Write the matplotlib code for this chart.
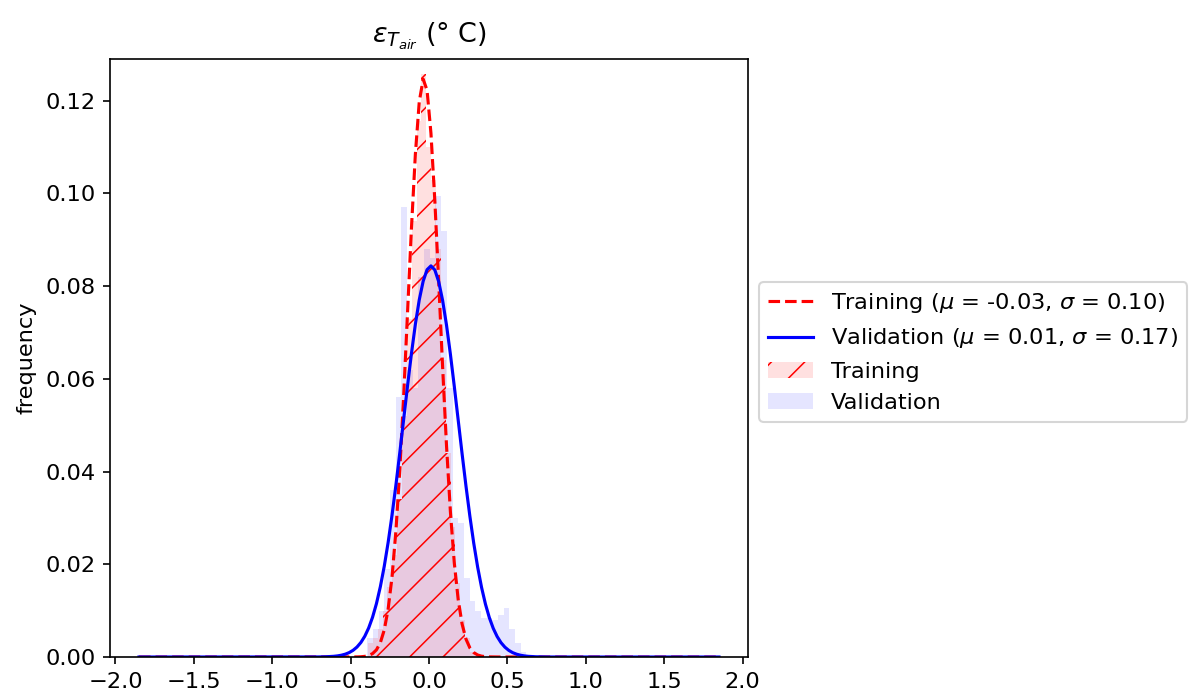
import numpy as np
import matplotlib
matplotlib.use("Agg")
import matplotlib.pyplot as plt

# --- histogram data (fraction of samples per bin) ---
train_bin_start = -0.389
train_bin_width = 0.031
train_freq = [0.003, 0.004, 0.006, 0.010, 0.015, 0.022, 0.034, 0.052, 0.073, 0.094,
              0.1157, 0.1258, 0.110, 0.103, 0.088, 0.064, 0.044, 0.028, 0.016, 0.008,
              0.004, 0.001]

val_bin_start = -0.393
val_bin_width = 0.0362
val_freq = [0.004, 0.006, 0.010, 0.019, 0.036, 0.056, 0.097, 0.062, 0.058, 0.082,
            0.088, 0.086, 0.0995, 0.092, 0.058, 0.030, 0.029, 0.017, 0.012, 0.010,
            0.0085, 0.0085, 0.008, 0.009, 0.0105, 0.006, 0.003, 0.001]

# --- fitted normal curves ---
train_mu, train_sigma = -0.033, 0.102
val_mu, val_sigma = 0.012, 0.174
curve_range = (-1.85, 1.85)

# sizes scaled up 1.5x (figure drawn at 100 dpi)
s = 1.5
plt.rcParams.update({
    'font.size': 16.2,
    'lines.linewidth': 1.5 * s,
    'axes.linewidth': 0.8 * s,
    'patch.linewidth': 1.0 * s,
    'hatch.linewidth': 1.1,
    'xtick.major.size': 3.5 * s,
    'ytick.major.size': 3.5 * s,
    'xtick.major.width': 0.8 * s,
    'ytick.major.width': 0.8 * s,
    'xtick.major.pad': 3.5 * s,
    'ytick.major.pad': 3.5 * s,
    'axes.titlepad': 8 * s,
    'axes.labelpad': 4 * s,
    'axes.titlesize': 'large',
})


def normal_curve(x, mu, sigma, bin_width):
    return bin_width * np.exp(-0.5 * ((x - mu) / sigma) ** 2) / (sigma * np.sqrt(2 * np.pi))


train_edges = train_bin_start + train_bin_width * np.arange(len(train_freq) + 1)
val_edges = val_bin_start + val_bin_width * np.arange(len(val_freq) + 1)
x = np.linspace(curve_range[0], curve_range[1], 150)

fig = plt.figure(figsize=(11.89, 7.0), dpi=100)
ax = fig.add_axes([110 / 1189, 43 / 700, 638 / 1189, 598 / 700])

h_val = ax.stairs(val_freq, val_edges, fill=True, color='blue', alpha=0.1,
                  linewidth=0, label='Validation')
h_train = ax.stairs(train_freq, train_edges, fill=True, facecolor=(1, 0, 0, 0.12),
                    edgecolor='red', linewidth=0, hatch='/', label='Training')

l_train, = ax.plot(x, normal_curve(x, train_mu, train_sigma, 0.0319), 'r--',
                   label=f'Training ($\\mu$ = {train_mu:.2f}, $\\sigma$ = {train_sigma:.2f})')
l_val, = ax.plot(x, normal_curve(x, val_mu, val_sigma, 0.0368), 'b-',
                 label=f'Validation ($\\mu$ = {val_mu:.2f}, $\\sigma$ = {val_sigma:.2f})')

ax.set_ylim(0, 0.129)
ax.set_ylabel('frequency')
ax.set_title('$ε_{T_{air}}$ (° C)')

ax.legend(handles=[l_train, l_val, h_train, h_val], loc='center left',
          bbox_to_anchor=(1.0, 0.51))

fig.savefig('out.png', dpi=100)
